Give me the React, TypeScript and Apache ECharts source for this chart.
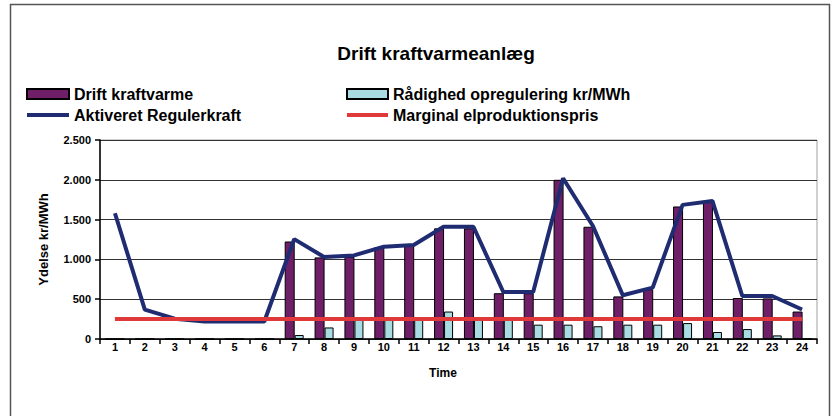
import React, { useEffect, useRef } from "react";
import * as echarts from "echarts";

const categories = ["1","2","3","4","5","6","7","8","9","10","11","12","13","14","15","16","17","18","19","20","21","22","23","24"];
const driftKraftvarme = [0,0,0,0,0,0,1225,1025,1030,1155,1175,1390,1390,575,575,2000,1410,535,625,1665,1725,515,510,345];
const raadighed = [0,0,0,0,0,0,50,145,240,240,240,345,240,240,180,180,160,180,180,200,88,125,45,0];
const aktiveret = [1580,370,255,220,220,220,1255,1030,1050,1160,1180,1410,1410,590,590,2020,1420,550,645,1685,1735,540,540,370];
const marginal = [250,250,250,250,250,250,250,250,250,250,250,250,250,250,250,250,250,250,250,250,250,250,250,250];
const yTicks = [0, 500, 1000, 1500, 2000, 2500];

const FONT = "'Liberation Sans', Arial, sans-serif";

export default function App() {
  const ref = useRef<HTMLDivElement>(null);
  useEffect(() => {
    const chart = echarts.init(ref.current!, null, { renderer: "svg" });
    const legendText = { fontFamily: FONT, fontSize: 16, fontWeight: "bold", color: "#000" };
    chart.setOption({
      animation: false,
      backgroundColor: "#ffffff",
      textStyle: { fontFamily: FONT },
      title: {
        text: "Drift kraftvarmeanlæg",
        left: 431,
        top: 39,
        textAlign: "center",
        textStyle: { fontFamily: FONT, fontSize: 19, fontWeight: "bold", color: "#000" },
      },
      legend: [
        {
          data: [
            { name: "Drift kraftvarme", icon: "rect" },
            { name: "Aktiveret Regulerkraft", itemStyle: { opacity: 0 } },
          ],
          orient: "vertical",
          left: 20,
          top: 81,
          itemWidth: 42,
          itemHeight: 10,
          itemGap: 5,
          lineStyle: { width: 4 },
          textStyle: legendText,
        },
        {
          data: [
            { name: "Rådighed opregulering kr/MWh", icon: "rect" },
            { name: "Marginal elproduktionspris", itemStyle: { opacity: 0 } },
          ],
          orient: "vertical",
          left: 340,
          top: 81,
          itemWidth: 41,
          itemHeight: 10,
          itemGap: 5,
          lineStyle: { width: 4 },
          textStyle: legendText,
        },
      ],
      grid: { left: 100, top: 140, right: 15, bottom: 77, show: true, borderColor: "#a0a0a0", borderWidth: 1 },
      xAxis: {
        type: "category",
        data: categories,
        boundaryGap: true,
        axisLine: { lineStyle: { color: "#000", width: 1.5 } },
        axisTick: { show: true, alignWithLabel: false, length: 5, lineStyle: { color: "#000", width: 1.5 } },
        axisLabel: { fontFamily: FONT, fontSize: 11, fontWeight: "bold", color: "#000", margin: 2, interval: 0 },
      },
      yAxis: {
        type: "value",
        min: 0,
        max: 2500,
        interval: 500,
        name: "Ydelse kr/MWh",
        nameLocation: "middle",
        nameRotate: 90,
        nameGap: 50,
        nameTextStyle: { fontFamily: FONT, fontSize: 13, fontWeight: "bold", color: "#000" },
        axisLine: { show: true, lineStyle: { color: "#000", width: 1.5 } },
        axisTick: { show: true, length: 5, lineStyle: { color: "#000", width: 1.5 } },
        axisLabel: {
          fontFamily: FONT,
          fontSize: 11,
          fontWeight: "bold",
          color: "#000",
          margin: 9,
          formatter: (v: number) => (yTicks.includes(v) ? v.toLocaleString("de-DE") : ""),
        },
        splitLine: { show: true, lineStyle: { color: "#333", width: 1 } },
      },
      series: [
        {
          name: "Drift kraftvarme",
          type: "bar",
          data: driftKraftvarme,
          barWidth: 10,
          barGap: "0%",
          itemStyle: { color: "#6e1f68", borderColor: "#000", borderWidth: 1 },
          z: 2,
        },
        {
          name: "Rådighed opregulering kr/MWh",
          type: "bar",
          data: raadighed,
          barWidth: 9,
          barGap: "0%",
          itemStyle: { color: "#a9dbe2", borderColor: "#000", borderWidth: 1 },
          z: 2,
        },
        {
          name: "Aktiveret Regulerkraft",
          type: "line",
          data: aktiveret,
          symbol: "none",
          lineStyle: { color: "#1f2c72", width: 4 },
          itemStyle: { color: "#1f2c72" },
          z: 4,
        },
        {
          name: "Marginal elproduktionspris",
          type: "line",
          data: marginal,
          symbol: "none",
          lineStyle: { color: "#e0393a", width: 4 },
          itemStyle: { color: "#e0393a" },
          z: 5,
        },
      ],
      graphic: [
        {
          type: "rect",
          shape: { x: 10.5, y: 4.5, width: 819, height: 420 },
          style: { fill: "none", stroke: "#555", lineWidth: 1.5 },
          silent: true,
        },
        {
          type: "text",
          x: 443,
          y: 373,
          style: {
            text: "Time",
            fontFamily: FONT,
            fontSize: 12,
            fontWeight: "bold",
            fill: "#000",
            textAlign: "center",
            textVerticalAlign: "middle",
          },
        },
      ],
    });
    return () => chart.dispose();
  }, []);
  return (
    <div
      ref={ref}
      style={{ position: "absolute", left: 0, top: 0, width: 832, height: 416 }}
    />
  );
}
